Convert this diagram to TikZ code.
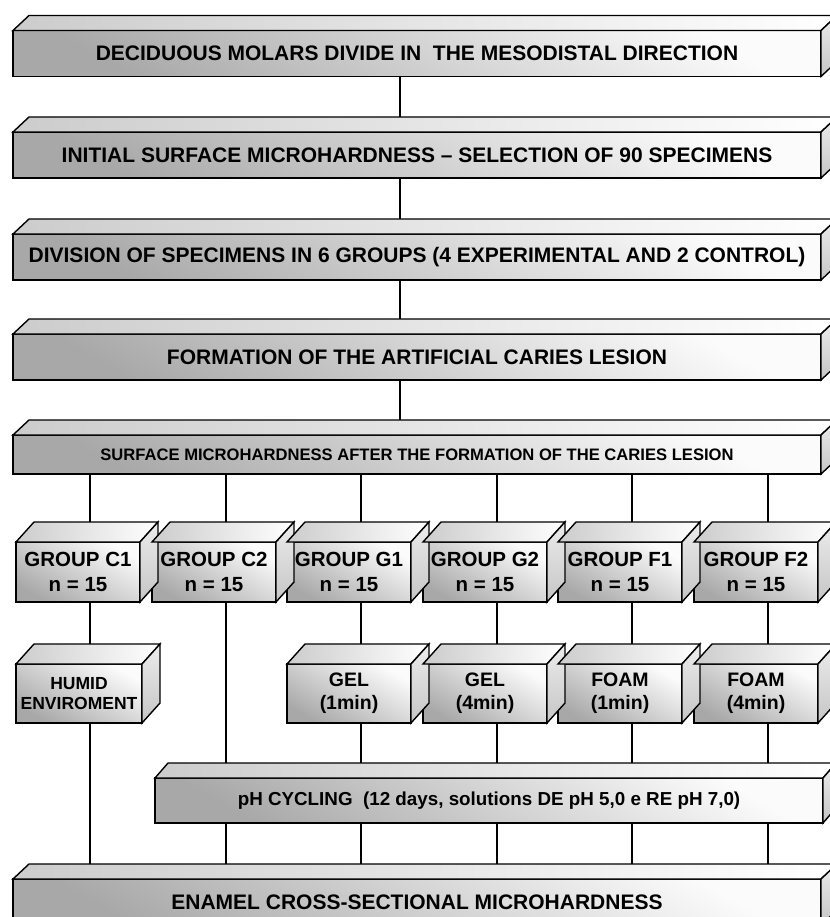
\documentclass[tikz,border=0pt]{standalone}
\usepackage{fontspec}
\setmainfont{Liberation Sans}
\usetikzlibrary{calc}

\begin{document}
\begin{tikzpicture}[x=1pt, y=-1pt,
    front/.style={draw, rectangle, inner sep=0pt, outer sep=0pt, align=center,
        line width=1.4pt, font=\bfseries\fontsize{21}{25}\selectfont,
        top color=gray!3, bottom color=gray!68, shading angle=-30},
    widebox/.style={front, minimum width=808pt, minimum height=46pt},
    groupbox/.style={front, minimum width=124pt, minimum height=60pt,
        font=\bfseries\fontsize{20.5}{25}\selectfont},
    stepbox/.style={front, minimum width=124pt, minimum height=59pt,
        font=\bfseries\fontsize{19.5}{23}\selectfont},
    topface/.style={draw, line width=1.4pt, left color=gray!40, right color=white},
    sideface/.style={draw, line width=1.4pt, top color=gray!15, bottom color=gray!45},
    link/.style={draw, line width=1.4pt}
        ]

    \path [use as bounding box] (0,0) rectangle (829,917);

    % main chain
    \node [widebox] (b1) at (417,53.5) {DECIDUOUS MOLARS DIVIDE IN\ \ THE MESODISTAL DIRECTION};
    \node [widebox] (b2) at (417,155) {INITIAL SURFACE MICROHARDNESS – SELECTION OF 90 SPECIMENS};
    \node [widebox] (b3) at (417,257) {DIVISION OF SPECIMENS IN 6 GROUPS (4 EXPERIMENTAL AND 2 CONTROL)};
    \node [widebox] (b4) at (417,357) {FORMATION OF THE ARTIFICIAL CARIES LESION};
    \node [widebox, minimum height=39pt, font=\bfseries\fontsize{16.6}{20}\selectfont]
        (b5) at (417,454.5) {SURFACE MICROHARDNESS AFTER THE FORMATION OF THE CARIES LESION};

    % groups
    \node [groupbox] (c1) at (78,572) {GROUP C1\\n = 15};
    \node [groupbox] (c2) at (214,572) {GROUP C2\\n = 15};
    \node [groupbox] (g1) at (349,572) {GROUP G1\\n = 15};
    \node [groupbox] (g2) at (485,572) {GROUP G2\\n = 15};
    \node [groupbox] (f1) at (620,572) {GROUP F1\\n = 15};
    \node [groupbox] (f2) at (756,572) {GROUP F2\\n = 15};

    % treatments
    \node [stepbox, minimum width=126pt, font=\bfseries\fontsize{17.5}{20}\selectfont]
        (hu) at (79,693.5) {HUMID\\ENVIROMENT};
    \node [stepbox] (ge1) at (349,693.5) {GEL\\(1min)};
    \node [stepbox] (ge4) at (485,693.5) {GEL\\(4min)};
    \node [stepbox] (fo1) at (620,693.5) {FOAM\\(1min)};
    \node [stepbox] (fo4) at (756,693.5) {FOAM\\(4min)};

    % cycling and final reading
    \node [front, minimum width=668pt, minimum height=45pt, font=\bfseries\fontsize{18.8}{22}\selectfont]
        (ph) at (489,800.5) {pH CYCLING\ \ (12 days, solutions DE pH 5,0 e RE pH 7,0)};
    \node [widebox] (en) at (417,902) {ENAMEL CROSS-SECTIONAL MICROHARDNESS};

    % 3d faces
    \foreach \n in {b1,b2,b3,b4,b5,en} {
        \draw [topface] (\n.north west) -- ++(16,-15) -- ($(\n.north east)+(16,-15)$) -- (\n.north east) -- cycle;
        \draw [sideface] (\n.north east) -- ++(16,-15) -- ($(\n.south east)+(16,-15)$) -- (\n.south east) -- cycle;
    }
    \foreach \n in {c1,c2,g1,g2,f1,f2,hu,ge1,ge4,fo1,fo4} {
        \draw [topface] (\n.north west) -- ++(18,-20) -- ($(\n.north east)+(18,-20)$) -- (\n.north east) -- cycle;
        \draw [sideface] (\n.north east) -- ++(18,-20) -- ($(\n.south east)+(18,-20)$) -- (\n.south east) -- cycle;
    }
    \draw [topface] (ph.north west) -- ++(13,-15) -- ($(ph.north east)+(13,-15)$) -- (ph.north east) -- cycle;
    \draw [sideface] (ph.north east) -- ++(13,-15) -- ($(ph.south east)+(13,-15)$) -- (ph.south east) -- cycle;

    % connectors
    \draw [link] ($(b1.south)+(-17,0)$) -- ($(b2.north)+(-17,-15)$);
    \draw [link] ($(b2.south)+(-17,0)$) -- ($(b3.north)+(-17,-15)$);
    \draw [link] ($(b3.south)+(-17,0)$) -- ($(b4.north)+(-17,-15)$);
    \draw [link] ($(b4.south)+(-17,0)$) -- ($(b5.north)+(-17,-15)$);

    \foreach \g in {c1,c2,g1,g2,f1,f2}
        \draw [link] ($(\g.north |- b5.south)+(12,0)$) -- ($(\g.north)+(12,-20)$);

    \foreach \g/\t in {c1/hu,g1/ge1,g2/ge4,f1/fo1,f2/fo4}
        \draw [link] ($(\g.south)+(12,0)$) -- ($(\g.south |- \t.north)+(12,-20)$);

    \draw [link] ($(c2.south)+(12,0)$) -- ($(c2.south |- ph.north)+(12,-15)$);
    \foreach \t in {ge1,ge4,fo1,fo4}
        \draw [link] ($(\t.south)+(12,0)$) -- ($(\t.south |- ph.north)+(12,-15)$);

    \foreach \g in {c2,g1,g2,f1,f2}
        \draw [link] ($(\g.south |- ph.south)+(12,0)$) -- ($(\g.south |- en.north)+(12,-15)$);
    \draw [link] ($(hu.south)+(11,0)$) -- ($(hu.south |- en.north)+(11,-15)$);

\end{tikzpicture}
\end{document}
